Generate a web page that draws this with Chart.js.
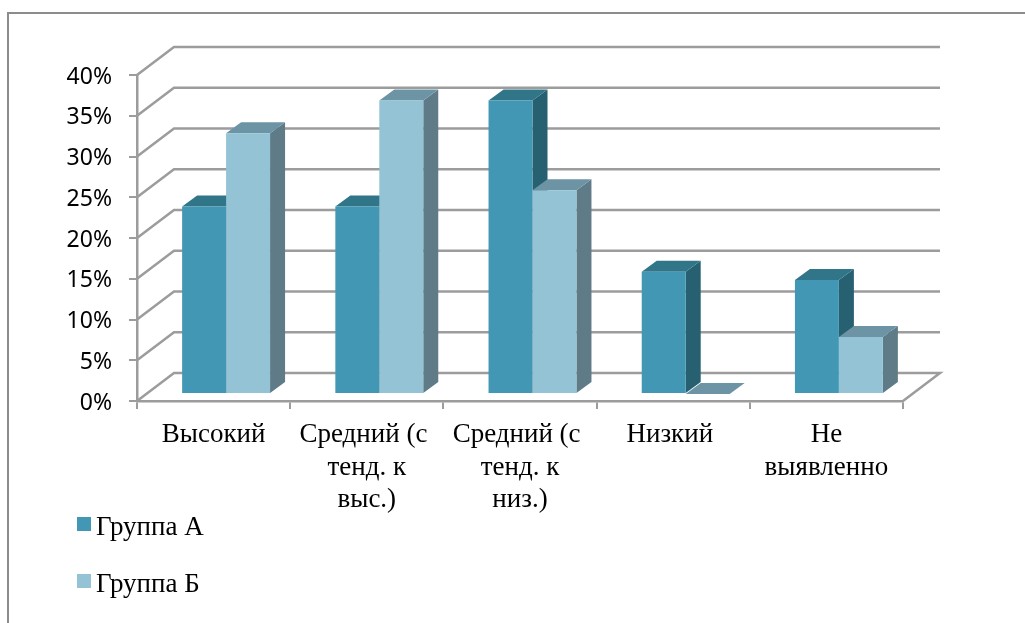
<!DOCTYPE html>
<html>
<head>
<meta charset="utf-8">
<style>
  html, body { margin: 0; padding: 0; background: #fff; overflow: hidden; }
  canvas { display: block; }
</style>
<script src="https://cdn.jsdelivr.net/npm/chart.js@4"></script>
</head>
<body>
<canvas id="chart" width="1025" height="623"></canvas>
<script>
// Chart data
const categories = ['Высокий', ['Средний (с ', 'тенд. к', 'выс.)'], ['Средний (с ', 'тенд. к', 'низ.)'], 'Низкий ', ['Не', 'выявленно']];
const groupA = [23, 23, 36, 15, 14];
const groupB = [32, 36, 25, 0, 7];
const seriesNames = ['Группа А', 'Группа Б'];

// Fake 3D look
const WALL_DX = 37, WALL_DY = -28;   // back wall offset from the front of the floor
const BAR_DX = 12.5, BAR_DY = -7;    // bars stand a bit inside the floor
const DEPTH_DX = 15, DEPTH_DY = -11; // bar depth
const GRID_COLOR = '#9c9c9c';
const faceColors = [
    { front: '#4298b4', top: '#317589', side: '#276171' },
    { front: '#93c3d5', top: '#6d94a5', side: '#5e7b87' }
];

function poly(ctx, pts, color) {
    ctx.fillStyle = color;
    ctx.beginPath();
    pts.forEach((p, i) => i ? ctx.lineTo(p[0], p[1]) : ctx.moveTo(p[0], p[1]));
    ctx.closePath();
    ctx.fill();
}

const walls = {
    id: 'walls',
    afterLayout(chart) {
        // percent labels sit slightly below their ticks
        chart.scales.y.getLabelItems().forEach(item => { item.options.translation[1] += 2; });
    },
    beforeDatasetsDraw(chart) {
        const { ctx, chartArea: a, scales: { y } } = chart;
        ctx.save();
        ctx.strokeStyle = GRID_COLOR;
        ctx.lineWidth = 2.5;
        y.ticks.forEach(t => {
            const py = y.getPixelForValue(t.value);
            ctx.beginPath();
            ctx.moveTo(a.left, py);
            ctx.lineTo(a.left + WALL_DX, py + WALL_DY);
            ctx.lineTo(a.right + WALL_DX, py + WALL_DY);
            if (t.value === 0) ctx.lineTo(a.right, py);
            ctx.stroke();
        });
        ctx.restore();

        // Chart.js paints the first series last, here group A has to go under group B
        chart.data.datasets.forEach((ds, i) => {
            const meta = chart.getDatasetMeta(i);
            const c = faceColors[i];
            ctx.save();
            // shift onto the floor and add side and top faces
            ctx.translate(BAR_DX, BAR_DY);
            meta.data.forEach(bar => {
                const p = bar.getProps(['x', 'y', 'base', 'width'], true);
                const l = p.x - p.width / 2, r = p.x + p.width / 2;
                poly(ctx, [[r, p.y], [r + DEPTH_DX, p.y + DEPTH_DY], [r + DEPTH_DX, p.base + DEPTH_DY], [r, p.base]], c.side);
                poly(ctx, [[l, p.y], [l + DEPTH_DX, p.y + DEPTH_DY], [r + DEPTH_DX, p.y + DEPTH_DY], [r, p.y]], c.top);
            });
            meta.controller.draw();
            ctx.restore();
        });
        return false;
    },
    afterDraw(chart) {
        const { ctx } = chart;
        ctx.save();
        // frame of the chart object, cut off by the page on the right and at the bottom
        ctx.strokeStyle = '#8c8c8c';
        ctx.lineWidth = 2;
        ctx.beginPath();
        ctx.moveTo(8, 630);
        ctx.lineTo(8, 13);
        ctx.lineTo(1030, 13);
        ctx.stroke();
        // legend
        ctx.font = '27px "Liberation Serif"';
        ctx.textBaseline = 'middle';
        chart.data.datasets.forEach((ds, i) => {
            const y = 524 + i * 57;
            ctx.fillStyle = ds.backgroundColor;
            ctx.fillRect(77, y - 7, 14, 14);
            ctx.fillStyle = '#000';
            ctx.fillText(seriesNames[i], 96, y + 4);
        });
        ctx.restore();
    }
};

new Chart(document.getElementById('chart'), {
    type: 'bar',
    data: {
        labels: categories,
        datasets: [
            { label: seriesNames[0], data: groupA, backgroundColor: faceColors[0].front },
            { label: seriesNames[1], data: groupB, backgroundColor: faceColors[1].front }
        ]
    },
    options: {
        responsive: false,
        animation: false,
        layout: { padding: { top: 75, right: 122, left: 0, bottom: 0 } },
        categoryPercentage: 0.574,
        barPercentage: 1,
        plugins: { legend: { display: false }, tooltip: { enabled: false } },
        scales: {
            x: {
                afterFit: s => { s.height = 222; },
                border: { color: GRID_COLOR, width: 2.5 },
                grid: { offset: true, drawOnChartArea: false, color: GRID_COLOR, lineWidth: 2, tickLength: 8 },
                ticks: { color: '#000', maxRotation: 0, autoSkip: false, padding: 10, font: { family: 'Liberation Serif', size: 27 } }
            },
            y: {
                min: 0,
                max: 40,
                afterFit: s => { s.width = 137; },
                border: { color: GRID_COLOR, width: 2.5 },
                grid: { drawOnChartArea: false, color: GRID_COLOR, lineWidth: 2, tickLength: 8 },
                ticks: { stepSize: 5, color: '#000', padding: 17, callback: v => v + '%', font: { family: 'Noto Sans', size: 23 } }
            }
        }
    },
    plugins: [walls]
});
</script>
</body>
</html>
